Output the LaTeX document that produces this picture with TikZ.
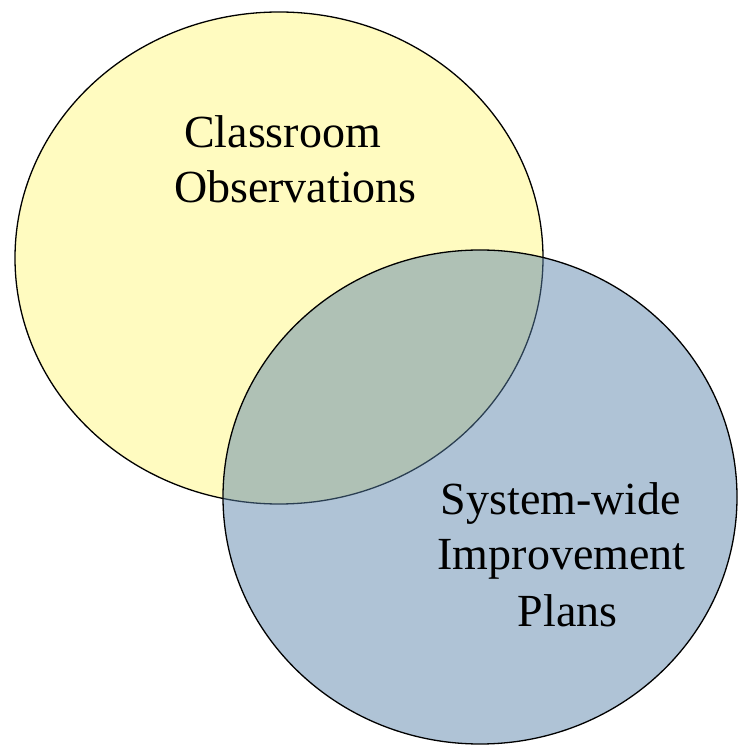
\documentclass[tikz,border=0pt]{standalone}
\usepackage{fontspec}
\setmainfont{Liberation Serif}
\definecolor{venyellow}{RGB}{255,251,192}
\definecolor{venblue}{RGB}{88,130,170}
\tikzset{
  venn/.style={draw=black, line width=1.3pt},
  lbl/.style={anchor=base, inner sep=0pt, font=\fontsize{46}{55}\selectfont, text=black}
}
\begin{document}
\begin{tikzpicture}[x=1pt,y=1pt]
\useasboundingbox (0,0) rectangle (738,745);
\fill[white] (0,0) rectangle (738,745);
\draw[venn, fill=venyellow] (279,487) ellipse [x radius=264, y radius=246];
\draw[venn, fill=venblue, fill opacity=0.48] (480,248) ellipse [x radius=257, y radius=247];
\node[lbl] (c1) at (282.5,597) {Classroom};
\node[lbl] (c2) at (295.5,542) {Observations};
\node[lbl] (s1) at (561,230) {System-wide};
\node[lbl] (s2) at (561.5,175) {Improvement};
\node[lbl] (s3) at (567.5,118) {Plans};
\end{tikzpicture}
\end{document}
